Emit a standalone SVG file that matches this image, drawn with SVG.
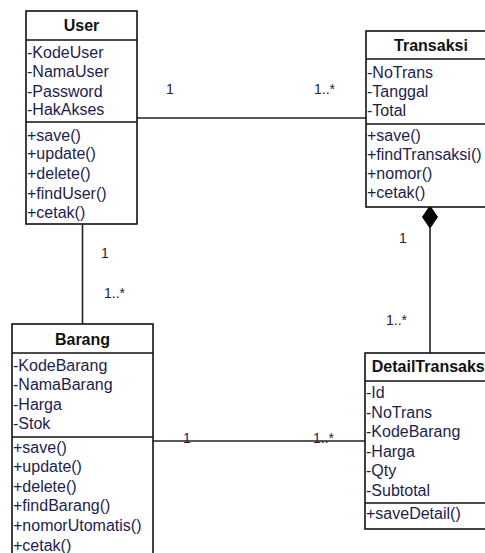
<svg xmlns="http://www.w3.org/2000/svg" width="485" height="553" viewBox="0 0 485 553">
<style>
.box{fill:#fff;stroke:#111;stroke-width:1.6}
.sep{stroke:#111;stroke-width:1.6}
.t{font-family:"Liberation Sans",Arial,sans-serif;font-size:16px;fill:#1d1d50}
.h{font-family:"Liberation Sans",Arial,sans-serif;font-size:16px;font-weight:bold;fill:#111;text-anchor:middle}
.m{font-family:"Liberation Sans",Arial,sans-serif;font-size:14px;fill:#222244}
.c{stroke:#222;stroke-width:1.6;fill:none}
</style>
<rect width="485" height="553" fill="#fff"/>
<g id="connectors">
<line class="c" x1="137" y1="118" x2="366" y2="118"/>
<line class="c" x1="82.5" y1="224" x2="82.5" y2="324"/>
<line class="c" x1="430" y1="228" x2="430" y2="353"/>
<polygon points="430,206 437.5,217 430,228 422.5,217" fill="#000" stroke="#000" stroke-width="1"/>
<line class="c" x1="153" y1="441" x2="365" y2="441"/>
<text class="m" x="166" y="94">1</text>
<text class="m" x="314" y="94">1..*</text>
<text class="m" x="101" y="258">1</text>
<text class="m" x="104" y="298">1..*</text>
<text class="m" x="399" y="243">1</text>
<text class="m" x="386" y="325">1..*</text>
<text class="m" x="183" y="443">1</text>
<text class="m" x="313" y="443">1..*</text>
</g>
<g id="User">
<rect class="box" x="26" y="11" width="111" height="213"/>
<line class="sep" x1="26" y1="40" x2="137" y2="40"/>
<line class="sep" x1="26" y1="122" x2="137" y2="122"/>
<text class="h" x="81.5" y="31">User</text>
<text class="t" x="27" y="58">-KodeUser</text>
<text class="t" x="27" y="77">-NamaUser</text>
<text class="t" x="27" y="97">-Password</text>
<text class="t" x="27" y="115">-HakAkses</text>
<text class="t" x="27" y="141">+save()</text>
<text class="t" x="27" y="159">+update()</text>
<text class="t" x="27" y="179">+delete()</text>
<text class="t" x="27" y="199">+findUser()</text>
<text class="t" x="27" y="218">+cetak()</text>
</g>
<g id="Transaksi">
<rect class="box" x="366" y="31" width="130" height="176"/>
<line class="sep" x1="366" y1="59" x2="496" y2="59"/>
<line class="sep" x1="366" y1="124" x2="496" y2="124"/>
<text class="h" x="431" y="51">Transaksi</text>
<text class="t" x="367" y="78">-NoTrans</text>
<text class="t" x="367" y="97">-Tanggal</text>
<text class="t" x="367" y="116">-Total</text>
<text class="t" x="367" y="141">+save()</text>
<text class="t" x="367" y="160">+findTransaksi()</text>
<text class="t" x="367" y="179">+nomor()</text>
<text class="t" x="367" y="198">+cetak()</text>
</g>
<g id="Barang">
<rect class="box" x="12" y="324" width="141" height="240"/>
<line class="sep" x1="12" y1="353" x2="153" y2="353"/>
<line class="sep" x1="12" y1="437" x2="153" y2="437"/>
<text class="h" x="82.5" y="345">Barang</text>
<text class="t" x="13" y="371">-KodeBarang</text>
<text class="t" x="13" y="390">-NamaBarang</text>
<text class="t" x="13" y="410">-Harga</text>
<text class="t" x="13" y="429">-Stok</text>
<text class="t" x="13" y="453">+save()</text>
<text class="t" x="13" y="472">+update()</text>
<text class="t" x="13" y="492">+delete()</text>
<text class="t" x="13" y="511">+findBarang()</text>
<text class="t" x="13" y="531">+nomorUtomatis()</text>
<text class="t" x="13" y="551">+cetak()</text>
</g>
<g id="DetailTransaksi">
<rect class="box" x="365" y="353" width="131" height="176"/>
<line class="sep" x1="365" y1="381" x2="496" y2="381"/>
<line class="sep" x1="365" y1="503" x2="496" y2="503"/>
<text class="h" x="430.5" y="372">DetailTransaksi</text>
<text class="t" x="366" y="398">-Id</text>
<text class="t" x="366" y="418">-NoTrans</text>
<text class="t" x="366" y="437">-KodeBarang</text>
<text class="t" x="366" y="457">-Harga</text>
<text class="t" x="366" y="476">-Qty</text>
<text class="t" x="366" y="496">-Subtotal</text>
<text class="t" x="366" y="519">+saveDetail()</text>
</g>
</svg>
